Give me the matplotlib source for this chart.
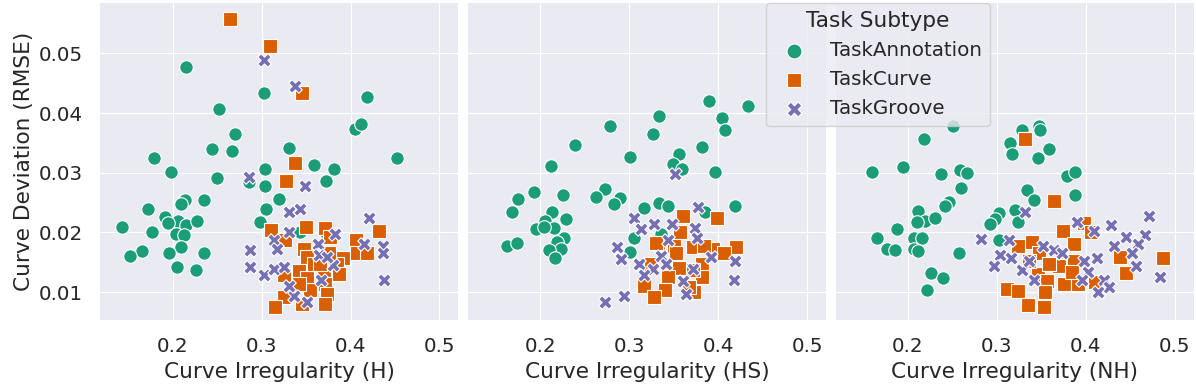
import numpy as np
import matplotlib.pyplot as plt

plt.style.use("seaborn-v0_8-darkgrid")
plt.rcParams["font.family"] = ["DejaVu Sans"]
plt.rcParams["text.color"] = "#262626"
plt.rcParams["axes.labelcolor"] = "#262626"
plt.rcParams["xtick.color"] = "#262626"
plt.rcParams["ytick.color"] = "#262626"

subtypes = ["TaskAnnotation", "TaskCurve", "TaskGroove"]
colors = ["#1b9e77", "#d95f02", "#7570b3"]
markers = ["o", "s", "X"]
xlabels = ["Curve Irregularity (H)", "Curve Irregularity (HS)", "Curve Irregularity (NH)"]

# panel H
h_ann_x = [0.2154, 0.3026, 0.252, 0.419, 0.405, 0.412, 0.270, 0.244, 0.2667, 0.331, 0.1794, 0.4525,
           0.198, 0.3037, 0.3588, 0.3817, 0.2502, 0.286, 0.304, 0.373, 0.320, 0.214, 0.209, 0.2348,
           0.1722, 0.3052, 0.191, 0.206, 0.2146, 0.1947, 0.227, 0.2978, 0.1427, 0.1764, 0.2037,
           0.2131, 0.3427, 0.3727, 0.2097, 0.166, 0.152, 0.1959, 0.2356, 0.2052, 0.2262]
h_ann_y = [0.0477, 0.0434, 0.0407, 0.0426, 0.0374, 0.0381, 0.0365, 0.0339, 0.0336, 0.0341, 0.0324, 0.0325,
           0.0301, 0.0307, 0.0313, 0.0306, 0.0292, 0.0284, 0.0277, 0.0286, 0.0256, 0.0255, 0.0247, 0.0254,
           0.0239, 0.0240, 0.0226, 0.0220, 0.0213, 0.0216, 0.0220, 0.0217, 0.0209, 0.0201, 0.0198,
           0.0196, 0.0201, 0.0199, 0.0175, 0.0169, 0.0160, 0.0166, 0.0166, 0.0143, 0.0137]
h_cur_x = [0.2644, 0.310, 0.346, 0.3379, 0.327, 0.3112, 0.3262, 0.350, 0.3712, 0.3476, 0.3506, 0.3913,
           0.4064, 0.4322, 0.4075, 0.4187, 0.3419, 0.3513, 0.370, 0.385, 0.3869, 0.3251, 0.3719, 0.355,
           0.3738, 0.3251, 0.3157, 0.3457, 0.3719, 0.3775, 0.3588, 0.342, 0.366, 0.3756]
h_cur_y = [0.0558, 0.0512, 0.0434, 0.0317, 0.0286, 0.0204, 0.0187, 0.0209, 0.0208, 0.0173, 0.0159, 0.0157,
           0.0187, 0.0202, 0.0165, 0.0165, 0.0136, 0.0123, 0.0131, 0.0148, 0.0131, 0.0128, 0.0114, 0.0103,
           0.0097, 0.0092, 0.0076, 0.0081, 0.0081, 0.0193, 0.0148, 0.0114, 0.0148, 0.0165]
h_grv_x = [0.3026, 0.3379, 0.2862, 0.3491, 0.3311, 0.343, 0.4206, 0.3135, 0.2869, 0.2869, 0.3026, 0.3135,
           0.3251, 0.364, 0.415, 0.4363, 0.4363, 0.4371, 0.3801, 0.3674, 0.3363, 0.3307, 0.3644, 0.3831,
           0.3307, 0.3176, 0.3513, 0.3738]
h_grv_y = [0.0489, 0.0446, 0.0293, 0.0278, 0.0234, 0.0240, 0.0224, 0.0188, 0.0170, 0.0143, 0.0128, 0.0139,
           0.0142, 0.0181, 0.0180, 0.0178, 0.0166, 0.0121, 0.0145, 0.0120, 0.0093, 0.0111, 0.0162, 0.0198,
           0.0201, 0.0173, 0.0083, 0.0159]

# panel HS
hs_ann_x = [0.3896, 0.434, 0.334, 0.4045, 0.4071, 0.2783, 0.327, 0.2393, 0.3813, 0.3003, 0.3558, 0.3487,
            0.3588, 0.3959, 0.212, 0.1929, 0.175, 0.2258, 0.1682, 0.2727, 0.2626, 0.2899, 0.2831, 0.2131,
            0.2289, 0.2056, 0.215, 0.1952, 0.2045, 0.2262, 0.2188, 0.2233, 0.2093, 0.2165, 0.1626, 0.1742,
            0.3169, 0.3334, 0.3435, 0.3846, 0.4188, 0.3352, 0.3053, 0.3008]
hs_ann_y = [0.0420, 0.0412, 0.0395, 0.0392, 0.0372, 0.0378, 0.0365, 0.0346, 0.0343, 0.0327, 0.0331, 0.0314,
            0.0307, 0.0302, 0.0311, 0.0268, 0.0256, 0.0263, 0.0235, 0.0273, 0.0259, 0.0258, 0.0247, 0.0235,
            0.0222, 0.0220, 0.0207, 0.0206, 0.0209, 0.0190, 0.0184, 0.0173, 0.0170, 0.0158, 0.0178, 0.0183,
            0.0241, 0.0250, 0.0245, 0.0234, 0.0244, 0.0198, 0.0191, 0.0167]
hs_cur_x = [0.3603, 0.3985, 0.3576, 0.3326, 0.3506, 0.3722, 0.3944, 0.4199, 0.4067, 0.3813, 0.3562, 0.3813,
            0.343, 0.3244, 0.3169, 0.3401, 0.3281, 0.373, 0.3674, 0.33, 0.3843, 0.3525, 0.3711]
hs_cur_y = [0.0227, 0.0224, 0.0200, 0.0183, 0.0177, 0.0175, 0.0172, 0.0175, 0.0165, 0.0148, 0.0141, 0.0125,
            0.0126, 0.0148, 0.0110, 0.0103, 0.0092, 0.0100, 0.0109, 0.0182, 0.0178, 0.0165, 0.0137]
hs_grv_x = [0.3513, 0.3772, 0.3048, 0.3131, 0.3273, 0.348, 0.3742, 0.3761, 0.343, 0.2857, 0.2913, 0.3112,
            0.3356, 0.3270, 0.3161, 0.3722, 0.3599, 0.4191, 0.418, 0.2936, 0.2722, 0.3412, 0.3637, 0.3918]
hs_grv_y = [0.0298, 0.0243, 0.0225, 0.0206, 0.0214, 0.0214, 0.0207, 0.0190, 0.0187, 0.0175, 0.0156, 0.0148,
            0.0160, 0.0138, 0.0128, 0.0139, 0.0118, 0.0152, 0.0120, 0.0093, 0.0083, 0.0148, 0.0097, 0.0159]

# panel NH
nh_ann_x = [0.2502, 0.2176, 0.328, 0.3469, 0.3488, 0.3143, 0.3589, 0.3173, 0.3461, 0.16, 0.194, 0.2375,
            0.2581, 0.2667, 0.3791, 0.3876, 0.2596, 0.3341, 0.342, 0.3881, 0.2457, 0.242, 0.2109, 0.2195,
            0.2101, 0.230, 0.3207, 0.3027, 0.2982, 0.2926, 0.3233, 0.1876, 0.1656, 0.2064, 0.2157, 0.1764,
            0.1858, 0.2064, 0.2112, 0.2577, 0.3019, 0.2258, 0.2398, 0.221]
nh_ann_y = [0.0378, 0.0356, 0.0371, 0.0378, 0.0372, 0.0349, 0.0340, 0.0331, 0.0325, 0.0301, 0.0309, 0.0298,
            0.0305, 0.0300, 0.0294, 0.0301, 0.0274, 0.0271, 0.0255, 0.0262, 0.0251, 0.0244, 0.0236, 0.0220,
            0.0217, 0.0225, 0.0237, 0.0233, 0.0223, 0.0214, 0.0217, 0.0205, 0.0191, 0.0190, 0.0191, 0.0173,
            0.0171, 0.0173, 0.0169, 0.0165, 0.0188, 0.0132, 0.0124, 0.0104]
nh_cur_x = [0.3311, 0.364, 0.3974, 0.3742, 0.4061, 0.3393, 0.3236, 0.387, 0.3469, 0.4379, 0.4865, 0.3862,
            0.3693, 0.4446, 0.3461, 0.3562, 0.3753, 0.391, 0.4105, 0.3112, 0.3233, 0.3536, 0.3348, 0.3533,
            0.3843, 0.3581, 0.3356]
nh_cur_y = [0.0356, 0.0252, 0.0216, 0.0203, 0.0200, 0.0184, 0.0178, 0.0181, 0.0165, 0.0159, 0.0158, 0.0153,
            0.0144, 0.0132, 0.0130, 0.0118, 0.0114, 0.0113, 0.0117, 0.0106, 0.0102, 0.0100, 0.0079, 0.0075,
            0.0134, 0.0148, 0.0153]
nh_grv_x = [0.3319, 0.4704, 0.4285, 0.4454, 0.466, 0.4584, 0.4311, 0.2824, 0.3131, 0.3513, 0.3637, 0.3038,
            0.3162, 0.2963, 0.3281, 0.3356, 0.3978, 0.4124, 0.4022, 0.4199, 0.4255, 0.4135, 0.4562, 0.4517,
            0.4828, 0.3899, 0.4087, 0.3412, 0.373, 0.3955]
nh_grv_y = [0.0235, 0.0227, 0.0212, 0.0193, 0.0196, 0.0180, 0.0178, 0.0189, 0.0187, 0.0177, 0.0171, 0.0162,
            0.0157, 0.0144, 0.0137, 0.0153, 0.0152, 0.0157, 0.0134, 0.0120, 0.0109, 0.0100, 0.0144, 0.0165,
            0.0126, 0.0217, 0.0203, 0.0120, 0.0165, 0.0120]

panels = [
    [(h_ann_x, h_ann_y), (h_cur_x, h_cur_y), (h_grv_x, h_grv_y)],
    [(hs_ann_x, hs_ann_y), (hs_cur_x, hs_cur_y), (hs_grv_x, hs_grv_y)],
    [(nh_ann_x, nh_ann_y), (nh_cur_x, nh_cur_y), (nh_grv_x, nh_grv_y)],
]

fig, axes = plt.subplots(1, 3, figsize=(11.96, 3.92), dpi=100, sharey=True)
fig.subplots_adjust(left=0.084, right=0.998, top=0.992, bottom=0.183, wspace=0.028)

for ax, data, xl in zip(axes, panels, xlabels):
    for (xs, ys), lab, c, m in zip(data, subtypes, colors, markers):
        ax.scatter(xs, ys, s=95, c=c, marker=m, edgecolors="white", linewidths=0.8, label=lab)
    ax.set_xlim(0.119, 0.521)
    ax.set_ylim(0.0053, 0.0584)
    ax.set_xticks([0.2, 0.3, 0.4, 0.5])
    ax.set_yticks([0.01, 0.02, 0.03, 0.04, 0.05])
    # invisible ticks that still push the labels out, like seaborn does
    ax.tick_params(labelsize=14.3, length=7.8, width=0, pad=4.55)
    ax.set_xlabel(xl, fontsize=15.6)

axes[0].set_ylabel("Curve Deviation (RMSE)", fontsize=15.6)

handles, labels = axes[0].get_legend_handles_labels()
leg = fig.legend(handles, labels, title="Task Subtype", loc="upper left",
                 bbox_to_anchor=(766 / 1196, 1 - 3 / 392), fontsize=14.3, title_fontsize=15.6,
                 frameon=True, borderaxespad=0, markerscale=1.1)
leg.get_frame().set_facecolor("#EAEAF2")
leg.get_frame().set_edgecolor("#cccccc")
leg.get_frame().set_alpha(0.8)

plt.savefig("out.png", dpi=100)
